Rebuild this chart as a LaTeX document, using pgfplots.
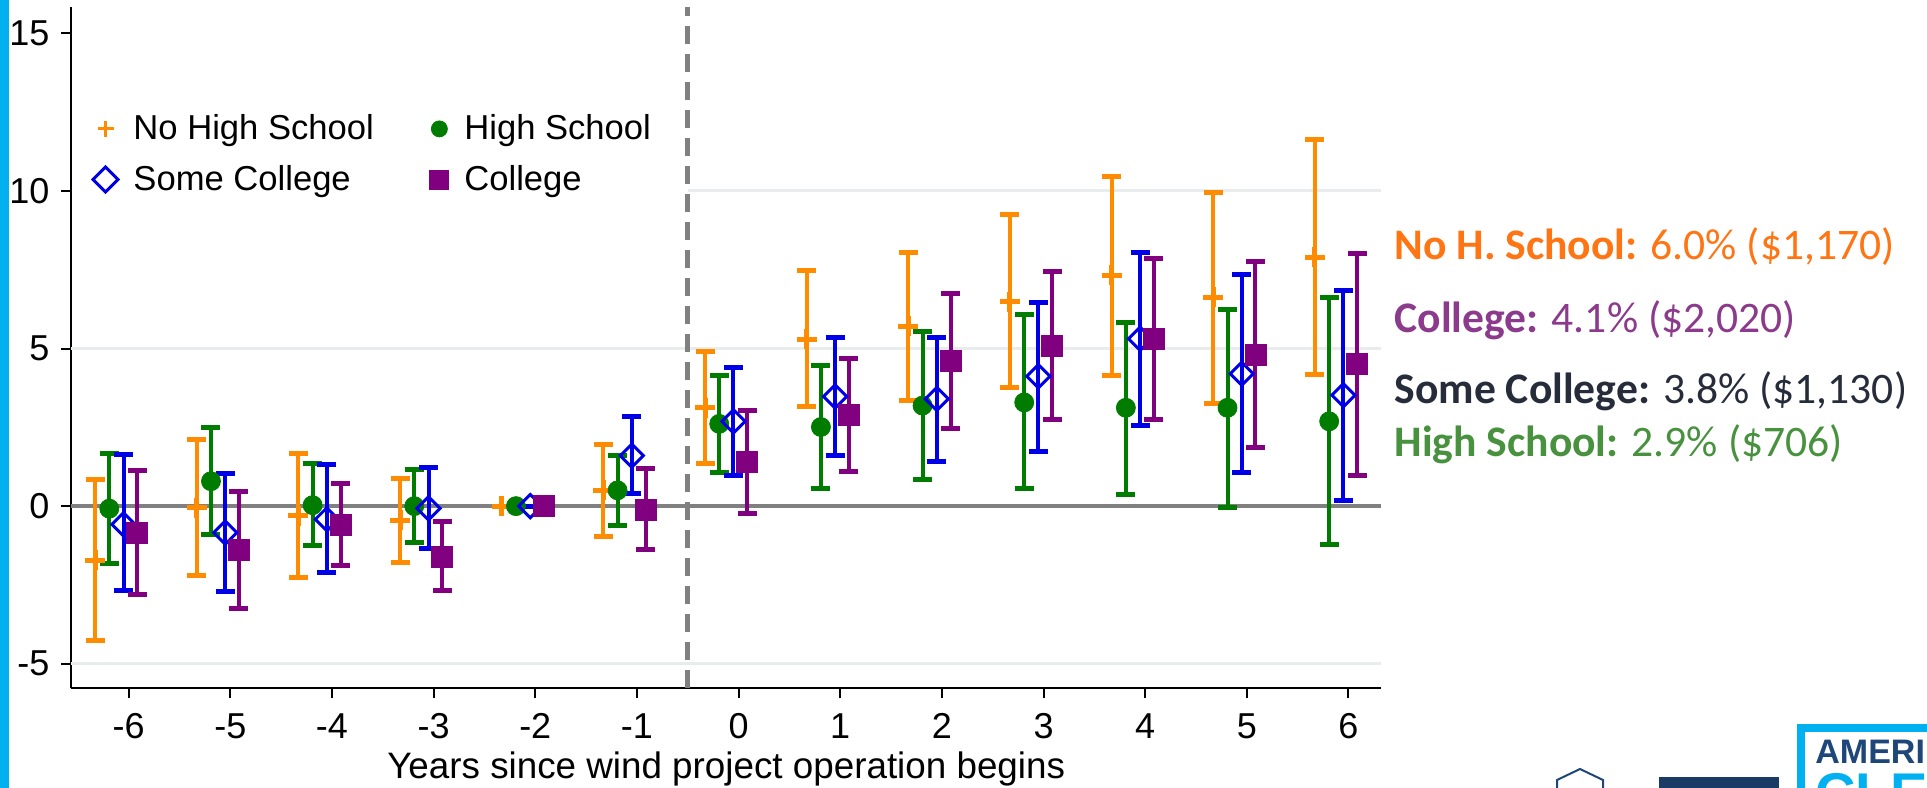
\documentclass[border=0pt]{standalone}
\usepackage{fontspec}
\setmainfont{Liberation Sans}
\newfontfamily\calibri{Carlito}
\usepackage{pgfplots}
\pgfplotsset{compat=1.18}
\usepackage{pgfplotstable}

\definecolor{cOr}{RGB}{255,140,0}
\definecolor{cGr}{RGB}{0,125,0}
\definecolor{cBl}{RGB}{0,0,230}
\definecolor{cPu}{RGB}{128,0,128}
\definecolor{tOr}{RGB}{255,117,20}
\definecolor{tPu}{RGB}{139,58,140}
\definecolor{tDk}{RGB}{38,44,58}
\definecolor{tGr}{RGB}{72,145,62}
\definecolor{gridc}{RGB}{233,236,236}
\definecolor{refgray}{RGB}{128,128,128}
\definecolor{slidecyan}{RGB}{0,176,240}
\definecolor{navy}{RGB}{30,70,120}

% t = years since operation, y = estimate, lo/hi = confidence interval
\pgfplotstableread{
t y lo hi
-6 -1.71 -4.25 0.84
-5 -0.05 -2.19 2.11
-4 -0.30 -2.27 1.67
-3 -0.45 -1.79 0.88
-2 0 0 0
-1 0.50 -0.95 1.94
0 3.12 1.34 4.89
1 5.30 3.15 7.47
2 5.70 3.35 8.05
3 6.49 3.77 9.26
4 7.32 4.15 10.45
5 6.62 3.27 9.95
6 7.90 4.19 11.64
}\nohs
\pgfplotstableread{
t y lo hi
-6 -0.08 -1.82 1.68
-5 0.79 -0.90 2.51
-4 0.03 -1.24 1.36
-3 0.00 -1.14 1.16
-2 0 0 0
-1 0.50 -0.63 1.61
0 2.61 1.06 4.14
1 2.51 0.55 4.47
2 3.19 0.84 5.55
3 3.29 0.56 6.07
4 3.12 0.37 5.84
5 3.12 -0.03 6.25
6 2.69 -1.21 6.63
}\hs
\pgfplotstableread{
t y lo hi
-6 -0.58 -2.69 1.65
-5 -0.84 -2.72 1.05
-4 -0.42 -2.11 1.32
-3 -0.07 -1.35 1.23
-2 0 0 0
-1 1.60 0.40 2.83
0 2.69 0.97 4.41
1 3.48 1.62 5.36
2 3.40 1.43 5.36
3 4.12 1.74 6.47
4 5.31 2.56 8.05
5 4.20 1.08 7.36
6 3.52 0.18 6.84
}\sc
\pgfplotstableread{
t y lo hi
-6 -0.84 -2.80 1.13
-5 -1.39 -3.25 0.46
-4 -0.60 -1.87 0.71
-3 -1.60 -2.69 -0.50
-2 0 0 0
-1 -0.11 -1.39 1.19
0 1.40 -0.23 3.04
1 2.88 1.09 4.69
2 4.61 2.45 6.76
3 5.09 2.75 7.44
4 5.31 2.75 7.87
5 4.80 1.87 7.75
6 4.51 0.97 8.03
}\col

\pgfplotsset{
  ebar/.style={only marks, error bars/.cd, y dir=both, y explicit,
    error bar style={line width=2bp, color=#1},
    error mark options={rotate=90, mark size=4.75bp, line width=2.5bp, color=#1}},
}

\begin{document}
\begin{tikzpicture}
\useasboundingbox (0,0) rectangle (963.5bp,394bp);
\begin{axis}[
  at={(35.7bp,49.85bp)}, anchor=south west,
  scale only axis, width=654.8bp, height=340.4bp,
  xmin=-6.563, xmax=6.32, ymin=-5.78, ymax=15.82,
  axis x line*=bottom, axis y line*=left,
  axis line style={line width=1bp, black},
  tick align=outside, major tick length=5bp,
  tick style={line width=1bp, black},
  xtick={-6,-5,-4,-3,-2,-1,0,1,2,3,4,5,6},
  xticklabels={-6,-5,-4,-3,-2,-1,0,1,2,3,4,5,6},
  ytick={-5,0,5,10,15},
  yticklabels={-5,0,5,10,15},
  tick label style={font=\fontsize{18bp}{20bp}\selectfont},
  xticklabel style={yshift=-4bp},
  yticklabel style={xshift=-2.5bp},
  xlabel={Years since wind project operation begins},
  xlabel style={at={(axis description cs:0.5,0)}, anchor=base, yshift=-44.85bp, inner sep=0pt,
    font=\fontsize{18.4bp}{20bp}\selectfont},
  clip=false,
  legend columns=2, legend cell align=left,
  legend style={draw=none, fill=none, font=\fontsize{17.3bp}{20bp}\selectfont,
    at={(0.0117,0.8546)}, anchor=north west, row sep=7.3bp,
    /tikz/every odd column/.append style={column sep=5.75bp},
    /tikz/every even column/.append style={column sep=26bp}},
]
% light grid lines and reference lines
\addplot[gridc, line width=1.5bp, forget plot] coordinates {(-6.563,5) (6.32,5)};
\addplot[gridc, line width=1.5bp, forget plot] coordinates {(-6.563,-5) (6.32,-5)};
\addplot[gridc, line width=1.5bp, forget plot] coordinates {(-0.5,10) (6.32,10)};
\addplot[refgray, line width=2bp, forget plot] coordinates {(-6.563,0) (6.32,0)};
\addplot[refgray, line width=2.5bp, dash pattern=on 9bp off 5bp, forget plot] coordinates {(-0.5,-5.78) (-0.5,15.82)};

\addplot[color=cOr, mark=+, mark size=5bp, mark options={line width=2.5bp},
  legend image post style={mark size=4bp, mark options={line width=1.4bp}}, ebar=cOr]
  table[x expr=\thisrow{t}-0.33, y=y, y error plus expr=\thisrow{hi}-\thisrow{y}, y error minus expr=\thisrow{y}-\thisrow{lo}] {\nohs};
\addlegendentry{No High School}
\addplot[color=cGr, mark=*, mark size=4.75bp, mark options={fill=cGr, draw=cGr},
  legend image post style={mark size=4bp}, ebar=cGr]
  table[x expr=\thisrow{t}-0.19, y=y, y error plus expr=\thisrow{hi}-\thisrow{y}, y error minus expr=\thisrow{y}-\thisrow{lo}] {\hs};
\addlegendentry{High School}
\addplot[color=cBl, mark=square, mark size=4.1bp, mark options={rotate=45, fill=white, draw=cBl, line width=1.5bp},
  legend image post style={mark size=4.4bp}, ebar=cBl]
  table[x expr=\thisrow{t}-0.05, y=y, y error plus expr=\thisrow{hi}-\thisrow{y}, y error minus expr=\thisrow{y}-\thisrow{lo}] {\sc};
\addlegendentry{Some College}
\addplot[color=cPu, mark=square*, mark size=5.25bp, mark options={fill=cPu, draw=cPu},
  legend image post style={mark size=4.75bp}, ebar=cPu]
  table[x expr=\thisrow{t}+0.085, y=y, y error plus expr=\thisrow{hi}-\thisrow{y}, y error minus expr=\thisrow{y}-\thisrow{lo}] {\col};
\addlegendentry{College}

\node[anchor=base west, inner sep=0pt, text=tOr, font=\calibri\fontsize{21.8bp}{24bp}\selectfont]
  at (axis cs:6.45,7.82) {\textbf{No H. School:} 6.0\% (\$1,170)};
\node[anchor=base west, inner sep=0pt, text=tPu, font=\calibri\fontsize{21.8bp}{24bp}\selectfont]
  at (axis cs:6.45,5.52) {\textbf{College:} 4.1\% (\$2,020)};
\node[anchor=base west, inner sep=0pt, text=tDk, font=\calibri\fontsize{21.8bp}{24bp}\selectfont]
  at (axis cs:6.45,3.27) {\textbf{Some College:} 3.8\% (\$1,130)};
\node[anchor=base west, inner sep=0pt, text=tGr, font=\calibri\fontsize{21.8bp}{24bp}\selectfont]
  at (axis cs:6.45,1.57) {\textbf{High School:} 2.9\% (\$706)};
\end{axis}
% slide decorations
\fill[slidecyan] (0,0) rectangle (4.5bp,394bp);
\draw[navy, line width=1bp] (778.5bp,0) -- (778.5bp,4bp) -- (790bp,9.5bp) -- (801.5bp,4bp) -- (801.5bp,0);
\fill[navy!85!black] (829.5bp,0) rectangle (889.5bp,5.5bp);
\draw[slidecyan, line width=4bp] (900.5bp,-10bp) rectangle (1000bp,30bp);
\node[anchor=base west, inner sep=0pt, text=navy, font=\fontsize{17bp}{18bp}\selectfont\bfseries] at (907.5bp,12.5bp) {AMERI};
\begin{scope}
\clip (0,0) rectangle (963.5bp,394bp);
\node[anchor=base west, inner sep=0pt, text=slidecyan, font=\fontsize{28bp}{30bp}\selectfont\bfseries] at (907.5bp,-12bp) {CLE};
\end{scope}
\end{tikzpicture}
\end{document}
